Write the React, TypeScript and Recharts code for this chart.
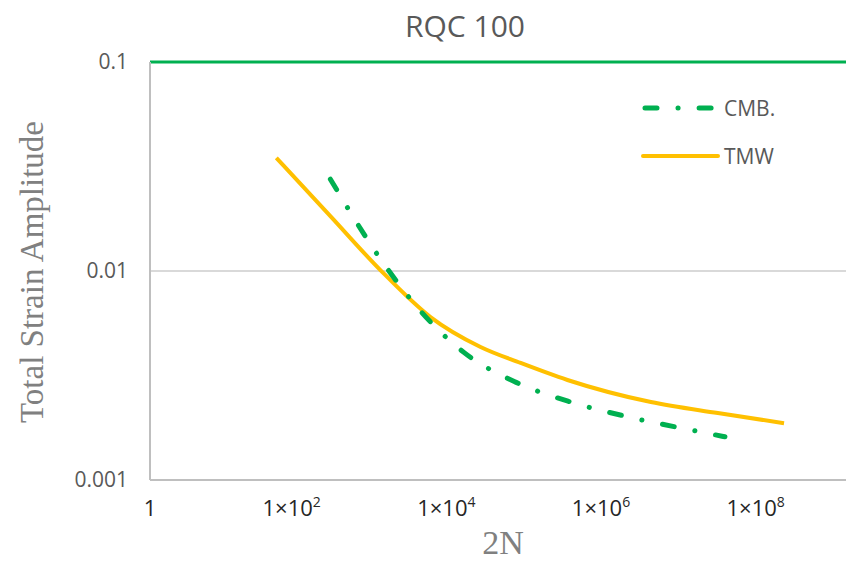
import { CartesianGrid, Line, LineChart, ReferenceLine, XAxis, YAxis } from "recharts";

// 2N (reversals) and total strain amplitude
const cmbCycles = [215, 1042, 3143, 11330, 53450, 276000, 1560000, 8770000, 27200000];
const cmbStrain = [0.0275, 0.0109, 0.00644, 0.00409, 0.00294, 0.00236, 0.002, 0.00175, 0.00161];

const tmwCycles = [43, 215, 953, 4236, 18800, 62100, 250000, 3000000, 22000000, 158000000];
const tmwStrain = [0.0348, 0.0183, 0.0101, 0.00602, 0.00433, 0.00363, 0.00301, 0.00236, 0.00209, 0.00187];

const xTicks = [1, 1e2, 1e4, 1e6, 1e8];
const xTickLabels = ["1", "1×10|2", "1×10|4", "1×10|6", "1×10|8"];
const yTicks = [0.001, 0.01, 0.1];
const yTickLabels = ["0.001", "0.01", "0.1"];

const GREEN = "#00b050";
const ORANGE = "#ffc000";
const TICK_FONT = "'Open Sans', sans-serif";
const SERIF = "'Liberation Serif', 'DejaVu Serif', serif";

const cmb = cmbCycles.map((x, i) => ({ x, y: cmbStrain[i] }));
const tmw = tmwCycles.map((x, i) => ({ x, y: tmwStrain[i] }));

const XTick = ({ x, y, payload }: any) => {
  const idx = xTicks.indexOf(payload.value);
  const [base, exp] = (xTickLabels[idx] ?? "").split("|");
  // the exponent labels sit a little left of their tick in the original
  const dx = idx === 0 ? 0 : -13;
  return (
    <text x={x + dx} y={y + 28} textAnchor="middle" fontSize={22} fontFamily={TICK_FONT} fill="#262626">
      {base}
      {exp && (
        <tspan dy={-9} fontSize={14}>
          {exp}
        </tspan>
      )}
    </text>
  );
};

const YTick = ({ y, payload }: any) => {
  const idx = yTicks.indexOf(payload.value);
  return (
    <text x={128} y={y + 7} textAnchor="end" fontSize={21} fontFamily={TICK_FONT} fill="#595959">
      {yTickLabels[idx]}
    </text>
  );
};

export default function App() {
  return (
    <div style={{ position: "relative", width: 846, height: 561, background: "#fff" }}>
      <style>{"body{margin:0}"}</style>
      <LineChart width={846} height={561} margin={{ top: 62, right: 0, bottom: 0, left: 0 }}>
        <CartesianGrid vertical={false} stroke="#d9d9d9" strokeWidth={2} />
        <XAxis
          type="number"
          dataKey="x"
          scale="log"
          domain={[1, 1e9]}
          ticks={xTicks}
          allowDataOverflow
          height={81}
          axisLine={{ stroke: "#bfbfbf", strokeWidth: 2 }}
          tickLine={false}
          tick={<XTick />}
          interval={0}
        />
        <YAxis
          type="number"
          dataKey="y"
          scale="log"
          domain={[0.001, 0.1]}
          ticks={yTicks}
          allowDataOverflow
          width={150}
          axisLine={{ stroke: "#bfbfbf", strokeWidth: 2 }}
          tickLine={false}
          tick={<YTick />}
          interval={0}
        />
        <ReferenceLine y={0.1} stroke={GREEN} strokeWidth={3} />
        <Line
          data={tmw}
          dataKey="y"
          type="monotone"
          stroke={ORANGE}
          strokeWidth={4}
          dot={false}
          isAnimationActive={false}
        />
        <Line
          data={cmb}
          dataKey="y"
          type="monotone"
          stroke={GREEN}
          strokeWidth={5}
          strokeDasharray="12 21 0.1 21"
          strokeLinecap="round"
          dot={false}
          isAnimationActive={false}
        />
      </LineChart>

      <div
        style={{
          position: "absolute",
          left: 465,
          top: 25,
          transform: "translate(-50%, -50%)",
          fontFamily: TICK_FONT,
          fontSize: 30,
          color: "#595959",
          whiteSpace: "nowrap",
        }}
      >
        RQC 100
      </div>
      <div
        style={{
          position: "absolute",
          left: 32,
          top: 272,
          transform: "translate(-50%, -50%) rotate(-90deg)",
          fontFamily: SERIF,
          fontSize: 33,
          color: "#808080",
          whiteSpace: "nowrap",
        }}
      >
        Total Strain Amplitude
      </div>
      <div
        style={{
          position: "absolute",
          left: 503,
          top: 543,
          transform: "translate(-50%, -50%)",
          fontFamily: SERIF,
          fontSize: 34,
          color: "#808080",
          whiteSpace: "nowrap",
        }}
      >
        2N
      </div>

      <div style={{ position: "absolute", left: 640, top: 92, fontFamily: TICK_FONT, fontSize: 21, color: "#595959" }}>
        <div style={{ display: "flex", alignItems: "center", height: 32 }}>
          <svg width={82} height={10}>
            <line x1={5} y1={5} x2={77} y2={5} stroke={GREEN} strokeWidth={5} strokeLinecap="round" strokeDasharray="12 21 0.1 21" />
          </svg>
          <span style={{ marginLeft: 2 }}>CMB.</span>
        </div>
        <div style={{ display: "flex", alignItems: "center", height: 32, marginTop: 16 }}>
          <svg width={82} height={10}>
            <line x1={3} y1={5} x2={78} y2={5} stroke={ORANGE} strokeWidth={4} strokeLinecap="round" />
          </svg>
          <span style={{ marginLeft: 2 }}>TMW</span>
        </div>
      </div>
    </div>
  );
}
